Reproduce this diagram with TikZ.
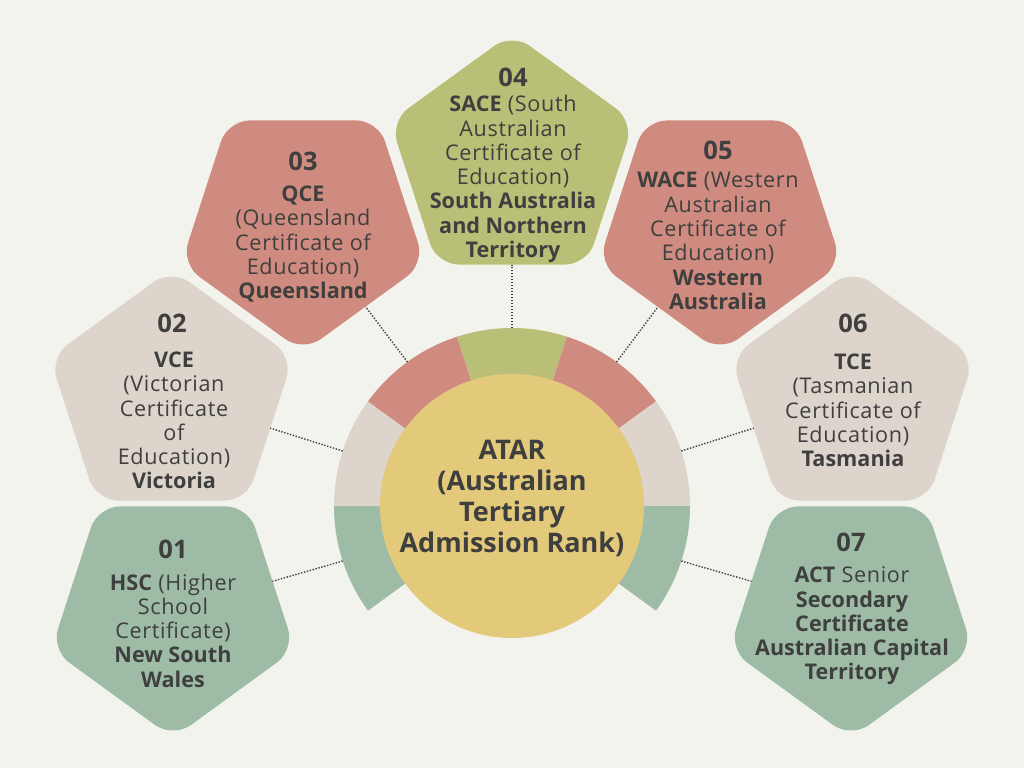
\documentclass[tikz,border=0pt]{standalone}
\usepackage{fontspec}
\setmainfont{Open Sans}[LetterSpace=3, BoldFeatures={LetterSpace=0}]
\usetikzlibrary{shapes.geometric}
\definecolor{bgc}{HTML}{F2F3EC}
\definecolor{grn}{HTML}{9DBBA5}
\definecolor{bei}{HTML}{DDD4CC}
\definecolor{sal}{HTML}{CF8B7F}
\definecolor{oli}{HTML}{BABF77}
\definecolor{yel}{HTML}{E3C97A}
\definecolor{txt}{HTML}{3F3F3F}
\begin{document}
\begin{tikzpicture}[x=1pt,y=-1pt,
  pent/.style={regular polygon, regular polygon sides=5, minimum size=256pt,
    inner sep=0pt, outer sep=0pt, rounded corners=22pt, draw=none},
  pdown/.style={pent, shape border rotate=180},
  num/.style={text=txt, font=\fontsize{25.5}{25.5}\selectfont\bfseries, inner sep=0pt},
  body/.style={text=txt, font=\fontsize{21.6}{24.3}\selectfont, align=center, inner sep=0pt},
  conn/.style={draw=txt, line width=1.4pt, dash pattern=on 1.4pt off 1.6pt}]
\fill[bgc] (0,0) rectangle (1024,768);
\useasboundingbox (0,0) rectangle (1024,768);
% ring segments
\begin{scope}[shift={(512,506)}, y=1pt]
  \fill[grn] (180:128) arc[start angle=180,end angle=216,radius=128] -- (216:178) arc[start angle=216,end angle=180,radius=178] -- cycle;
  \fill[bei] (144:128) arc[start angle=144,end angle=180,radius=128] -- (180:178) arc[start angle=180,end angle=144,radius=178] -- cycle;
  \fill[sal] (108:128) arc[start angle=108,end angle=144,radius=128] -- (144:178) arc[start angle=144,end angle=108,radius=178] -- cycle;
  \fill[oli] (72:128) arc[start angle=72,end angle=108,radius=128] -- (108:178) arc[start angle=108,end angle=72,radius=178] -- cycle;
  \fill[sal] (36:128) arc[start angle=36,end angle=72,radius=128] -- (72:178) arc[start angle=72,end angle=36,radius=178] -- cycle;
  \fill[bei] (0:128) arc[start angle=0,end angle=36,radius=128] -- (36:178) arc[start angle=36,end angle=0,radius=178] -- cycle;
  \fill[grn] (-36:128) arc[start angle=-36,end angle=0,radius=128] -- (0:178) arc[start angle=0,end angle=-36,radius=178] -- cycle;
  \coordinate (r1) at (198:178);
  \coordinate (r2) at (162:178);
  \coordinate (r3) at (126:178);
  \coordinate (r4) at (90:178);
  \coordinate (r5) at (54:178);
  \coordinate (r6) at (18:178);
  \coordinate (r7) at (-18:178);
\end{scope}
\node[circle, fill=yel, minimum size=264pt, inner sep=0pt] (atar) at (512,506) {};
\node[text=txt, font=\fontsize{27}{31}\selectfont\bfseries, align=center, inner sep=0pt] (atart) at (512,498)
  {ATAR\\(Australian\\Tertiary\\Admission Rank)};
% pentagons
\node[pdown, fill=grn] (p1) at (173,610) {};
\node[pent,  fill=bei] (p2) at (171.5,397) {};
\node[pdown, fill=sal] (p3) at (303,224) {};
\node[pent,  fill=oli] (p4) at (512,161) {};
\node[pdown, fill=sal] (p5) at (720,224) {};
\node[pent,  fill=bei] (p6) at (852.5,397) {};
\node[pdown, fill=grn] (p7) at (851,610) {};
% numbers
\node[num] (n1) at (173,549) {01};
\node[num] (n2) at (172,323) {02};
\node[num] (n3) at (303,161) {03};
\node[num] (n4) at (513,77) {04};
\node[num] (n5) at (718,150) {05};
\node[num] (n6) at (853,323) {06};
\node[num] (n7) at (851,542) {07};
% bodies
\node[body] (t1) at (173,630.5) {\textbf{HSC} (Higher\\School\\Certificate)\\\textbf{New South}\\\textbf{Wales}};
\node[body] (t2) at (174,420.5) {\textbf{VCE}\\(Victorian\\Certificate\\of\\Education)\\\textbf{Victoria}};
\node[body] (t3) at (303,244) {\textbf{QCE}\\(Queensland\\Certificate of\\Education)\\\textbf{Queensland}};
\node[body] (t4) at (513,179) {\textbf{SACE} (South\\Australian\\Certificate of\\Education)\\\textbf{South Australia}\\\textbf{and Northern}\\\textbf{Territory}};
\node[body] (t5) at (718,241) {\textbf{WACE} (Western\\Australian\\Certificate of\\Education)\\\textbf{Western}\\\textbf{Australia}};
\node[body] (t6) at (853,410.5) {\textbf{TCE}\\(Tasmanian\\Certificate of\\Education)\\\textbf{Tasmania}};
\node[body] (t7) at (852,626) {\textbf{ACT} Senior\\\textbf{Secondary}\\\textbf{Certificate}\\\textbf{Australian Capital}\\\textbf{Territory}};
% connectors
\draw[conn] (r1) -- (p1);
\draw[conn] (r2) -- (p2);
\draw[conn] (r3) -- (p3);
\draw[conn] (r4) -- (p4);
\draw[conn] (r5) -- (p5);
\draw[conn] (r6) -- (p6);
\draw[conn] (r7) -- (p7);
\end{tikzpicture}
\end{document}
